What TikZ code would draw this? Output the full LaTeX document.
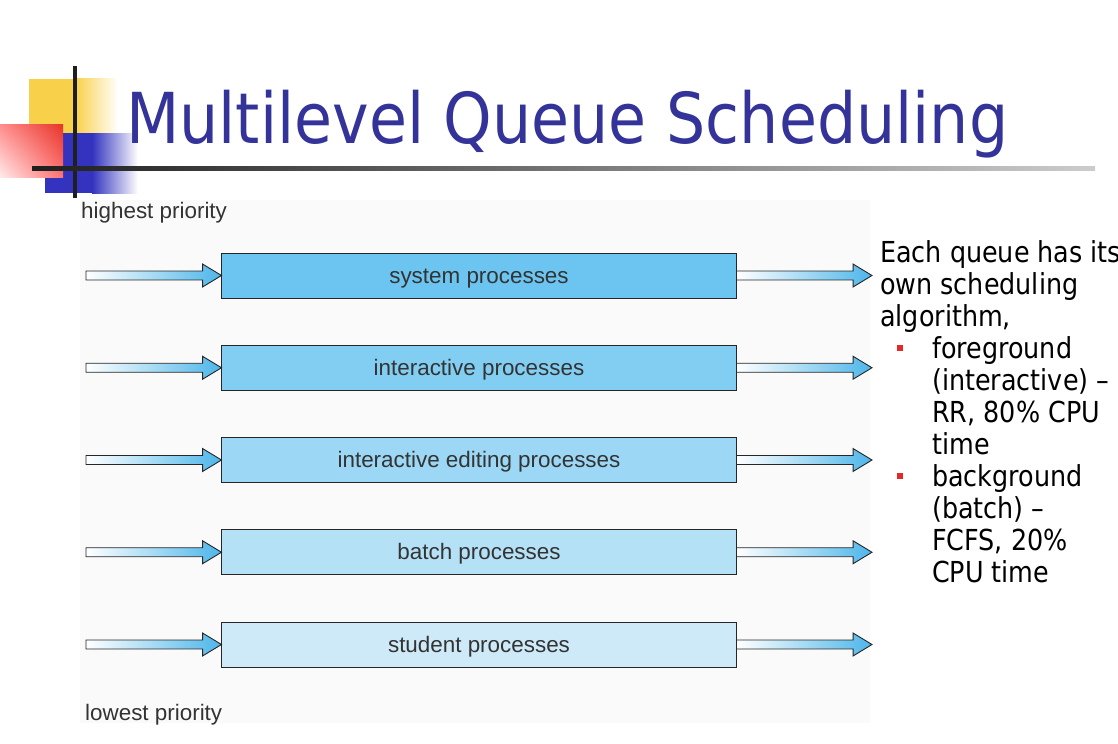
\documentclass[tikz,border=0pt]{standalone}
\usepackage{fontspec}
\setmainfont{DejaVu Sans}[FakeStretch=0.88]
\newfontfamily\figfont{Liberation Sans}
\usetikzlibrary{calc,shadings}

\definecolor{titleblue}{RGB}{51,51,153}
\definecolor{arrowblue}{RGB}{77,182,234}
\definecolor{qcolA}{RGB}{108,197,240}
\definecolor{qcolB}{RGB}{130,206,243}
\definecolor{qcolC}{RGB}{156,216,245}
\definecolor{qcolD}{RGB}{181,225,246}
\definecolor{qcolE}{RGB}{206,234,248}
\definecolor{logoyellow}{RGB}{249,208,74}
\definecolor{logoblue}{RGB}{51,51,192}
\definecolor{logored}{RGB}{232,52,40}
\definecolor{bulletred}{RGB}{230,40,40}
\definecolor{panelgray}{RGB}{250,250,250}

\begin{document}
\begin{tikzpicture}[x=1bp, y=-1bp,
  queue/.style={draw=black!85, line width=1bp, minimum width=514bp,
               minimum height=45bp, inner sep=0pt, text=black!80,
               text height=15bp, text depth=0bp,
               font=\figfont\fontsize{22.5}{27}\selectfont},
  fatarrow/.style={draw=black!85, line width=0.9bp, left color=white,
               right color=arrowblue,
               to path={let \p1=(\tikztostart), \p2=(\tikztotarget) in
               (\x1,\y1+4.5pt) -- (\x2-19pt,\y1+4.5pt) -- (\x2-19pt,\y1+11.5pt)
               -- (\x2,\y1) -- (\x2-19pt,\y1-11.5pt) -- (\x2-19pt,\y1-4.5pt)
               -- (\x1,\y1-4.5pt) -- cycle}},
  prio/.style={anchor=base west, inner sep=0pt, text=black!80,
               font=\figfont\fontsize{22.5}{27}\selectfont},
  bodytext/.style={anchor=base west, inner sep=0pt,
               font=\fontsize{29}{32}\selectfont},
  bullet/.style={fill=bulletred, minimum size=6bp, inner sep=0pt},
]
\useasboundingbox (0,0) rectangle (1118,744);

% logo in the corner
\fill[logoyellow] (29,79) rectangle (75,133);
\shade[left color=logoyellow, right color=white] (75,79) rectangle (118,133);
\fill[logoblue] (45,133) rectangle (92,193);
\shade[left color=logoblue, right color=white] (92,133) rectangle (138,193);
\shade[upper left=red!45!white, upper right=logored,
       lower left=red!8!white, lower right=red!55!white] (0,124) rectangle (63,177);
\fill[black!88] (73,66) rectangle (77,198);
\shade[left color=black!88, right color=black!20] (32,166) rectangle (1095,170);

\node[anchor=base west, inner sep=0pt, text=titleblue,
      font=\fontsize{70.5}{84}\selectfont] (title) at (126,143) {Multilevel Queue Scheduling};

% figure panel
\fill[panelgray] (80,200) rectangle (870,723);
\node[prio] (hi) at (81,218) {highest priority};
\node[prio] (lo) at (85,720) {lowest priority};

\foreach \lbl/\col [count=\i] in {system processes/qcolA,
    interactive processes/qcolB, interactive editing processes/qcolC,
    batch processes/qcolD, student processes/qcolE} {
  \node[queue, fill=\col] (q\i) at (479,{275.5+92.25*(\i-1)}) {\lbl};
  \coordinate (in\i) at (86,{275.5+92.25*(\i-1)});
  \coordinate (out\i) at (872,{275.5+92.25*(\i-1)});
  \draw[fatarrow] (in\i) to (q\i.west);
  \draw[fatarrow] (q\i.east) to (out\i);
}

% notes on the right
\foreach \ln [count=\i from 0] in {Each queue has its, own scheduling, {algorithm,}}
  \node[bodytext] (head\i) at (880,{262+32*\i}) {\ln};
\node[bullet] (b1) at (900,348) {};
\foreach \ln [count=\i from 0] in {foreground, {(interactive) –}, {RR, 80\% CPU}, time}
  \node[bodytext] (fg\i) at (932,{358+32*\i}) {\ln};
\node[bullet] (b2) at (900,476) {};
\foreach \ln [count=\i from 0] in {background, {(batch) –}, {FCFS, 20\%}, CPU time}
  \node[bodytext] (bg\i) at (932,{486+32*\i}) {\ln};
\end{tikzpicture}
\end{document}
